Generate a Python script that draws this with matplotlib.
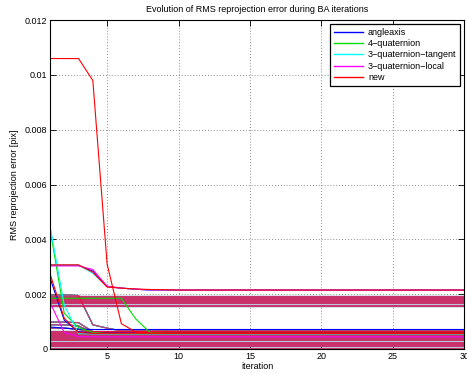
"""Evolution of RMS reprojection error during BA iterations."""
import matplotlib

matplotlib.use("Agg")
import matplotlib.pyplot as plt
import numpy as np

plt.rcParams["font.family"] = ["Liberation Sans", "DejaVu Sans"]
plt.rcParams["font.size"] = 6.5

N_ITER = 30
iterations = np.arange(1, N_ITER + 1)

methods = ["angleaxis", "4\u2212quaternion", "3\u2212quaternion\u2212tangent",
           "3\u2212quaternion\u2212local", "new"]
colors = ["#0000ff", "#00dd00", "#00ffff", "#ff00ff", "#ff0000"]
# shared curves are drawn semi-transparent so the stacked colours mix
shared_alpha = [1.0, 1.0, 1.0, 0.5, 0.55]

# converged (flat) error levels of the datasets
upper_levels = [0.00194, 0.00190, 0.00186, 0.00182, 0.00178, 0.00174,
                0.00170, 0.00166, 0.00162, 0.00157]
lower_levels = [0.00067, 0.00063, 0.00059, 0.00055, 0.00051, 0.00047,
                0.00043, 0.00039, 0.00035, 0.00031, 0.00026, 0.00021,
                0.00017, 0.00013, 0.00009, 0.00005, 0.00001]

# datasets with a visible transient (same for every method)
step_down = [0.00197, 0.00197, 0.00195, 0.00088, 0.00076, 0.00066]
early_a = [0.00098, 0.00098, 0.00096, 0.00063]
early_b = [0.00088, 0.00088, 0.00084, 0.00060]
early_c = [0.00076, 0.00076, 0.00072, 0.00058]

# transients specific to one method
method_curves = {
    "angleaxis": [[0.00260, 0.00105, 0.00062, 0.00058],
                  [0.00080, 0.00076, 0.00072, 0.00071],
                  [0.00305, 0.00305, 0.00305, 0.00284, 0.00228, 0.00222,
                   0.00218, 0.00215]],
    "4\u2212quaternion": [[0.00185, 0.00185, 0.00185, 0.00185, 0.00185,
                           0.00185, 0.00110, 0.00060, 0.00058, 0.00057],
                          [0.00440, 0.00130, 0.00078, 0.00060, 0.00056]],
    "3\u2212quaternion\u2212tangent": [[0.00450, 0.00160, 0.00056, 0.00055],
                                       [0.00306, 0.00306, 0.00306, 0.00276,
                                        0.00227, 0.00222, 0.00218, 0.00215]],
    "3\u2212quaternion\u2212local": [[0.00170, 0.00060, 0.00045, 0.00044],
                                     [0.00303, 0.00303, 0.00303, 0.00290,
                                      0.00229, 0.00222, 0.00218, 0.00215]],
    "new": [[0.01060, 0.01060, 0.01060, 0.00980, 0.00310, 0.00092,
             0.00062, 0.00058],
            [0.00275, 0.00112, 0.00060, 0.00057],
            [0.00307, 0.00307, 0.00307, 0.00280, 0.00226, 0.00222,
             0.00219, 0.00217, 0.00216, 0.00215]],
}


def full(values):
    """Hold the last read value until the final iteration."""
    values = list(values)
    return values + [values[-1]] * (N_ITER - len(values))


fig = plt.figure(figsize=(4.67, 3.74), dpi=100)
ax = fig.add_axes([0.107, 0.067, 0.887, 0.879])

shared = [[v] for v in upper_levels + lower_levels]
shared += [step_down, early_a, early_b, early_c]
for k, (method, color, alpha) in enumerate(zip(methods, colors, shared_alpha)):
    for curve in shared:
        ax.plot(iterations, full(curve), color=color, lw=0.8, alpha=alpha,
                zorder=2)
    for curve in method_curves[method]:
        ax.plot(iterations, full(curve), color=color, lw=0.8, zorder=3 + k)
    ax.plot([], [], color=color, lw=1.0, label=method)

ax.set_xlim(1, 30)
ax.set_ylim(0, 0.012)
ax.set_xticks([5, 10, 15, 20, 25, 30])
ax.set_yticks(np.arange(0, 0.0121, 0.002))
ax.set_yticklabels(["0", "0.002", "0.004", "0.006", "0.008", "0.01", "0.012"])
ax.grid(True, color="0.4", linestyle=(0, (1, 2.5)), linewidth=0.6)
ax.tick_params(direction="in", top=True, right=True, length=4, width=0.6,
               labelsize=6.5, pad=2)
for spine in ax.spines.values():
    spine.set_linewidth(0.8)
    spine.set_zorder(10)

ax.set_title("Evolution of RMS reprojection error during BA iterations",
             fontsize=6.5, pad=6)
ax.set_xlabel("iteration", fontsize=6.5, labelpad=1)
ax.set_ylabel("RMS reprojection error [pix]", fontsize=6.5, labelpad=4)

leg = ax.legend(loc="upper right", bbox_to_anchor=(0.99, 0.988),
                borderaxespad=0, fontsize=6.5, handlelength=3.2,
                labelspacing=0.26, fancybox=False, framealpha=1,
                edgecolor="black", borderpad=0.4, handletextpad=0.6)
leg.get_frame().set_linewidth(0.9)
leg.set_zorder(20)

fig.savefig("out.png", dpi=100)
